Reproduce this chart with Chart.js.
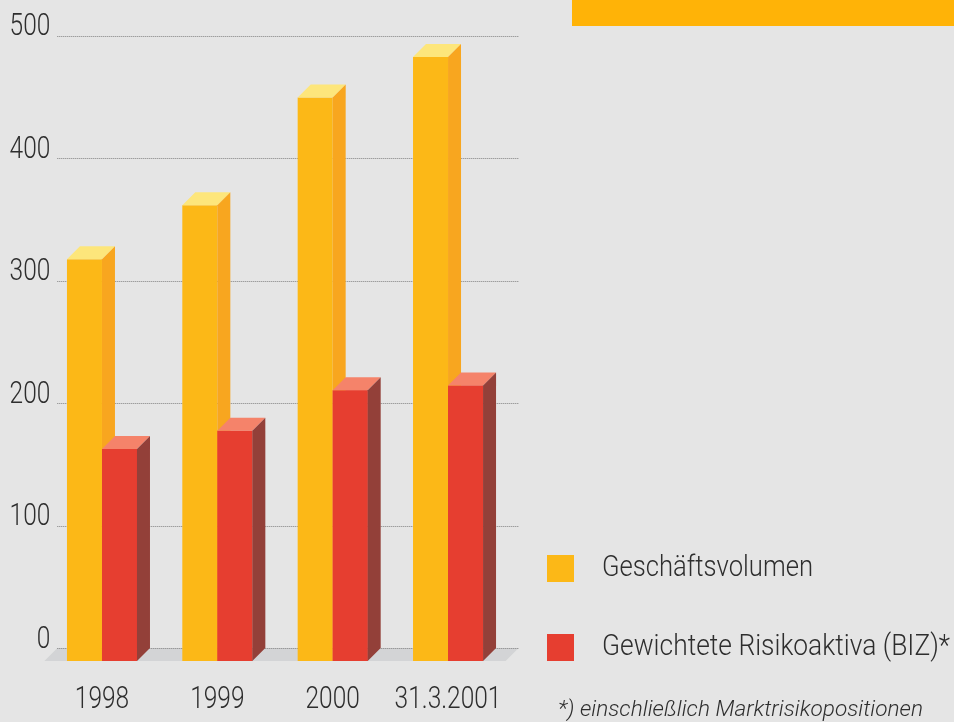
<!DOCTYPE html>
<html>
<head>
<meta charset="utf-8">
<script src="https://cdn.jsdelivr.net/npm/chart.js@4.4.0/dist/chart.umd.min.js"></script>
<style>
  html, body { margin: 0; padding: 0; background: #e5e5e5; }
  #wrap { position: relative; width: 954px; height: 722px; overflow: hidden; background: #e5e5e5; }
  #c { position: absolute; left: 0; top: 0; }
  .banner { position: absolute; left: 572px; top: 0; width: 382px; height: 26px; background: #ffb307; }
  .sw { position: absolute; left: 547px; width: 27px; height: 27px; }
  .lt { position: absolute; left: 602px; font-family: Roboto, "Open Sans", sans-serif; font-weight: 300;
        font-size: 29.5px; line-height: 1; color: #2e2e2e; white-space: nowrap; transform-origin: 0 0; }
  .fn { position: absolute; left: 558px; top: 697px; font-family: Roboto, "Open Sans", sans-serif; font-weight: 300;
        font-style: italic; font-size: 22.5px; line-height: 1; color: #2e2e2e; white-space: nowrap; transform-origin: 0 0; }
</style>
</head>
<body>
<div id="wrap">
  <canvas id="c" width="954" height="722"></canvas>
  <div class="banner"></div>
  <div class="sw" id="sw0" style="top:555px"></div>
  <div class="lt" id="lt0" style="top:552px"></div>
  <div class="sw" id="sw1" style="top:634px"></div>
  <div class="lt" id="lt1" style="top:631px"></div>
  <div class="fn" id="fn"></div>
</div>
<script>
// ---- data ----
const categories = ['1998', '1999', '2000', '31.3.2001'];
const geschaeftsvolumen = [328, 372, 460, 493];
const risikoaktiva = [173, 188, 221, 225];
const yTicks = [0, 100, 200, 300, 400, 500];
const seriesNames = ['Geschäftsvolumen', 'Gewichtete Risikoaktiva (BIZ)*'];
const footnote = '*) einschließlich Marktrisikopositionen';

// ---- styles ----
const frontColors = ['#fcb817', '#e63e30'];
const faceColors = [
  { top: '#fde67b', side: '#f8a61f' },
  { top: '#f5836a', side: '#934039' }
];
const DX = 13, DY = 13;
const FONT = 'Roboto, "Open Sans", sans-serif';
const TICK_SX = 0.79;

function fitText(id, text, target) {
  const el = document.getElementById(id);
  el.textContent = text;
  const w = el.getBoundingClientRect().width;
  el.style.transform = 'scaleX(' + (target / w) + ')';
}
document.getElementById('sw0').style.background = frontColors[0];
document.getElementById('sw1').style.background = frontColors[1];

const threeD = {
  id: 'threeD',
  afterLayout(chart) {
    // let the y labels reach past the plot's front edge, like the back-wall labels of the original
    chart.scales.y.right = chart.chartArea.left + 9;
  },
  beforeDraw(chart) {
    const ctx = chart.ctx;
    if (!ctx._origFillText) ctx._origFillText = ctx.fillText;
    ctx.fillText = function (t, x, y, mw) {
      const w = this.measureText(t).width * TICK_SX;
      return ctx._origFillText.call(this, t, x, y, mw !== undefined ? Math.min(mw, w) : w);
    };
  },
  afterDraw(chart) {
    const ctx = chart.ctx;
    if (ctx._origFillText) ctx.fillText = ctx._origFillText;
  },
  beforeDatasetsDraw(chart) {
    const { ctx, chartArea: a, scales: { y } } = chart;
    const y0 = y.getPixelForValue(0);
    ctx.save();
    ctx.fillStyle = '#d3d4d6';
    ctx.beginPath();
    ctx.moveTo(a.left, y0);
    ctx.lineTo(a.right, y0);
    ctx.lineTo(a.right + DX, y0 - DY);
    ctx.lineTo(a.left + DX, y0 - DY);
    ctx.closePath();
    ctx.fill();
    ctx.strokeStyle = '#808080';
    ctx.lineWidth = 1;
    ctx.setLineDash([1, 1]);
    y.ticks.forEach(t => {
      const py = Math.round(y.getPixelForValue(t.value) - DY) + 0.5;
      ctx.beginPath();
      ctx.moveTo(a.left + DX, py);
      ctx.lineTo(a.right + DX, py);
      ctx.stroke();
    });
    ctx.restore();
  },
  afterDatasetsDraw(chart) {
    const ctx = chart.ctx;
    const metas = chart.getSortedVisibleDatasetMetas().slice().sort((p, q) => p.index - q.index);
    ctx.save();
    metas.forEach(meta => {
      const c = faceColors[meta.index];
      meta.data.forEach(bar => {
        if (meta.index > 0) bar.draw(ctx);
        const { x, y, width, base } = bar.getProps(['x', 'y', 'width', 'base'], true);
        const l = x - width / 2, r = x + width / 2;
        ctx.fillStyle = c.top;
        ctx.beginPath();
        ctx.moveTo(l, y); ctx.lineTo(r, y); ctx.lineTo(r + DX, y - DY); ctx.lineTo(l + DX, y - DY);
        ctx.closePath(); ctx.fill();
        ctx.fillStyle = c.side;
        ctx.beginPath();
        ctx.moveTo(r, y); ctx.lineTo(r + DX, y - DY); ctx.lineTo(r + DX, base - DY); ctx.lineTo(r, base);
        ctx.closePath(); ctx.fill();
      });
    });
    ctx.restore();
  }
};

new Chart(document.getElementById('c'), {
  type: 'bar',
  data: {
    labels: categories,
    datasets: [
      { label: seriesNames[0], data: geschaeftsvolumen, backgroundColor: frontColors[0], borderWidth: 0,
        categoryPercentage: 0.607, barPercentage: 1 },
      { label: seriesNames[1], data: risikoaktiva, backgroundColor: frontColors[1], borderWidth: 0,
        categoryPercentage: 0.607, barPercentage: 1 }
    ]
  },
  options: {
    responsive: false,
    animation: false,
    events: [],
    layout: { padding: { left: 0, right: 448.3, top: 48.5, bottom: 0 } },
    plugins: { legend: { display: false }, tooltip: { enabled: false } },
    scales: {
      x: {
        grid: { display: false, drawTicks: false },
        border: { display: false },
        ticks: { font: { family: FONT, size: 31, weight: 300 }, color: '#2e2e2e', padding: 21,
                 maxRotation: 0, autoSkip: false },
        afterFit(s) { s.height = 61; }
      },
      y: {
        min: 0, max: 500,
        afterBuildTicks(s) { s.ticks = yTicks.map(v => ({ value: v })); },
        grid: { display: false, drawTicks: false },
        border: { display: false },
        ticks: { font: { family: FONT, size: 31, weight: 300 }, color: '#2e2e2e', padding: 3, labelOffset: -21 },
        afterFit(s) { s.width = 44.3; }
      }
    }
  },
  plugins: [threeD]
});

fitText('lt0', seriesNames[0], 211);
fitText('lt1', seriesNames[1], 348);
fitText('fn', footnote, 365);
</script>
</body>
</html>
